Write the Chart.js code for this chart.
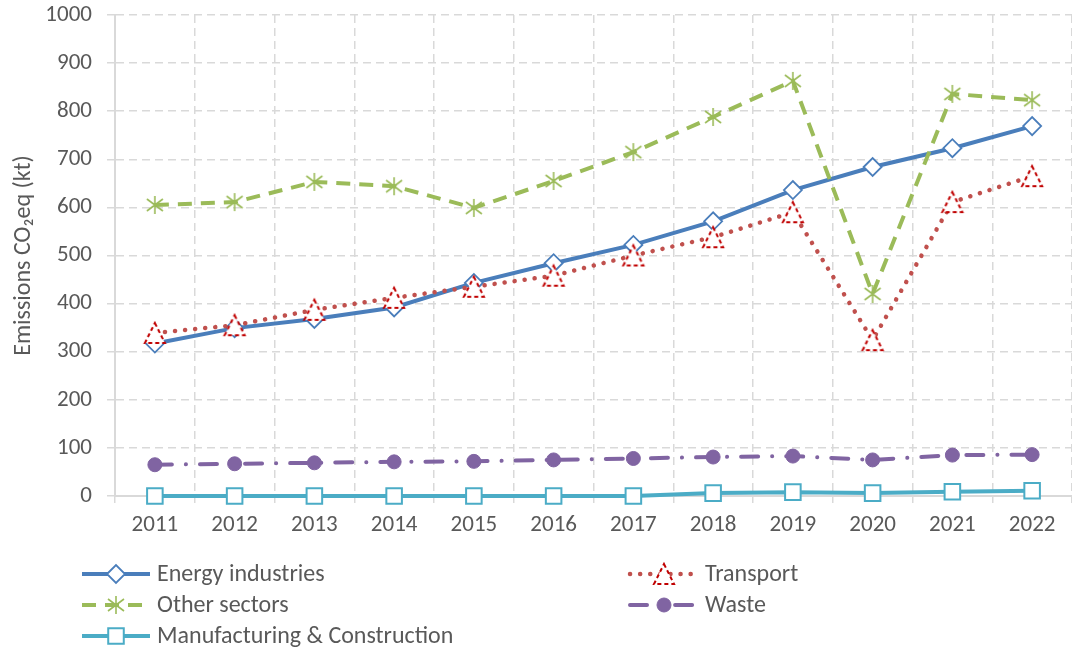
<!DOCTYPE html>
<html>
<head>
<meta charset="utf-8">
<script src="https://cdn.jsdelivr.net/npm/chart.js@4.4.1/dist/chart.umd.min.js"></script>
<style>
html, body { margin: 0; padding: 0; background: #fff; }
</style>
</head>
<body>
<canvas id="emissions" width="1072" height="652"></canvas>
<script>
var years = ['2011', '2012', '2013', '2014', '2015', '2016', '2017', '2018', '2019', '2020', '2021', '2022'];

var energy_industries = [317, 349, 368, 392, 443, 484, 522, 571, 636, 684, 723, 769];
var transport = [339, 355, 387, 412, 435, 458, 500, 538, 590, 324, 611, 665];
var other_sectors = [605, 611, 653, 644, 599, 655, 715, 788, 863, 420, 836, 823];
var waste = [65, 67, 69, 71, 72, 75, 78, 81, 83, 75, 85, 86];
var manufacturing = [0, 0, 0, 0, 0, 0, 0, 6, 8, 6, 9, 11];

var y_min = 0;
var y_max = 1000;
var y_step = 100;

var textColor = '#595959';
var gridColor = '#D9D9D9';
var fontFamily = 'Carlito, Lato, sans-serif';

// marker images for the two shapes chart.js has no match for
function dashedTriangle() {
	var c = document.createElement('canvas');
	c.width = 26; c.height = 26;
	var g = c.getContext('2d');
	g.fillStyle = '#ffffff';
	g.strokeStyle = '#C00000';
	g.lineWidth = 2;
	g.setLineDash([4, 3]);
	g.beginPath();
	g.moveTo(13, 3);
	g.lineTo(23, 23);
	g.lineTo(3, 23);
	g.closePath();
	g.fill();
	g.stroke();
	return c;
}

function asterisk() {
	var c = document.createElement('canvas');
	c.width = 22; c.height = 22;
	var g = c.getContext('2d');
	g.strokeStyle = '#9BBB59';
	g.lineWidth = 1.6;
	g.beginPath();
	g.moveTo(11, 2); g.lineTo(11, 20);
	g.moveTo(3, 5); g.lineTo(19, 17);
	g.moveTo(3, 17); g.lineTo(19, 5);
	g.stroke();
	return c;
}

var legendPlugin = {
	id: 'twoColumnLegend',
	afterDraw: function(chart) {
		var ctx = chart.ctx;
		var cols = [82, 630];
		var rows = [574, 605, 636];
		chart.data.datasets.forEach(function(ds, i) {
			var x = cols[i % 2];
			var y = rows[Math.floor(i / 2)];
			ctx.save();
			ctx.strokeStyle = ds.borderColor;
			ctx.lineWidth = ds.borderWidth;
			ctx.setLineDash(ds.borderDash || []);
			ctx.lineCap = ds.borderCapStyle || 'butt';
			ctx.beginPath();
			ctx.moveTo(x, y);
			ctx.lineTo(x + 68, y);
			ctx.stroke();
			ctx.restore();

			ctx.save();
			ctx.fillStyle = ds.pointBackgroundColor;
			ctx.strokeStyle = ds.pointBorderColor;
			ctx.lineWidth = ds.pointBorderWidth;
			Chart.helpers.drawPoint(ctx, {
				pointStyle: ds.pointStyle,
				radius: ds.pointRadius,
				rotation: 0,
				borderWidth: ds.pointBorderWidth
			}, x + 34, y);
			ctx.restore();

			ctx.save();
			ctx.fillStyle = textColor;
			ctx.font = '24px ' + fontFamily;
			ctx.textBaseline = 'middle';
			ctx.fillText(ds.label, x + 75, y + 1);
			ctx.restore();
		});
	}
};

var ctx = document.getElementById('emissions');

new Chart(ctx, {
	type: 'line',
	data: {
		labels: years,
		datasets: [{
			label: 'Energy industries',
			data: energy_industries,
			borderColor: '#4A7EBB',
			borderWidth: 4,
			pointStyle: 'rectRot',
			pointRadius: 9,
			pointBackgroundColor: '#ffffff',
			pointBorderColor: '#4A7EBB',
			pointBorderWidth: 1.8,
			clip: false,
			order: 5
		}, {
			label: 'Transport',
			data: transport,
			borderColor: '#C0504D',
			borderWidth: 4.5,
			borderDash: [0.1, 10],
			borderCapStyle: 'round',
			pointStyle: dashedTriangle(),
			pointRadius: 10,
			pointBackgroundColor: '#ffffff',
			pointBorderColor: '#C00000',
			pointBorderWidth: 2,
			clip: false,
			order: 4
		}, {
			label: 'Other sectors',
			data: other_sectors,
			borderColor: '#9BBB59',
			borderWidth: 4,
			borderDash: [14, 9],
			pointStyle: asterisk(),
			pointRadius: 10,
			pointBackgroundColor: '#9BBB59',
			pointBorderColor: '#9BBB59',
			pointBorderWidth: 1.6,
			clip: false,
			order: 3
		}, {
			label: 'Waste',
			data: waste,
			borderColor: '#8064A2',
			borderWidth: 4,
			borderDash: [17, 14, 0.1, 14],
			borderCapStyle: 'round',
			pointStyle: 'circle',
			pointRadius: 7,
			pointBackgroundColor: '#8064A2',
			pointBorderColor: '#8064A2',
			pointBorderWidth: 1,
			clip: false,
			order: 2
		}, {
			label: 'Manufacturing & Construction',
			data: manufacturing,
			borderColor: '#4BACC6',
			borderWidth: 4,
			pointStyle: 'rect',
			pointRadius: 11,
			pointBackgroundColor: '#ffffff',
			pointBorderColor: '#4BACC6',
			pointBorderWidth: 2,
			clip: false,
			order: 1
		}]
	},
	options: {
		responsive: false,
		animation: false,
		events: [],
		layout: {
			autoPadding: false,
			padding: { left: 8, right: 0, top: 15, bottom: 112 }
		},
		elements: {
			line: { tension: 0 }
		},
		plugins: {
			legend: { display: false },
			tooltip: { enabled: false }
		},
		scales: {
			x: {
				offset: true,
				grid: {
					offset: true,
					color: gridColor,
					lineWidth: 1.5,
					tickLength: 7,
					tickBorderDash: []
				},
				border: { color: gridColor, width: 2, dash: [8, 5] },
				ticks: {
					color: textColor,
					font: { family: fontFamily, size: 23 },
					padding: 8,
					maxRotation: 0
				},
				afterFit: function(s) { s.height = 44; }
			},
			y: {
				min: y_min,
				max: y_max,
				grid: {
					color: gridColor,
					lineWidth: 1.5,
					tickLength: 8,
					tickBorderDash: []
				},
				border: { color: gridColor, width: 2, dash: [8, 5] },
				ticks: {
					stepSize: y_step,
					color: textColor,
					font: { family: fontFamily, size: 23 },
					padding: 15,
					callback: function(v) { return String(v); }
				},
				title: {
					display: true,
					text: 'Emissions CO\u2082eq (kt)',
					color: textColor,
					font: { family: fontFamily, size: 24 },
					padding: { top: 2, bottom: 2 }
				},
				afterFit: function(s) {
					s.width = 107;
					s.paddingTop = 14;
					s.paddingBottom = 0;
				}
			}
		}
	},
	plugins: [legendPlugin]
});
</script>
</body>
</html>
